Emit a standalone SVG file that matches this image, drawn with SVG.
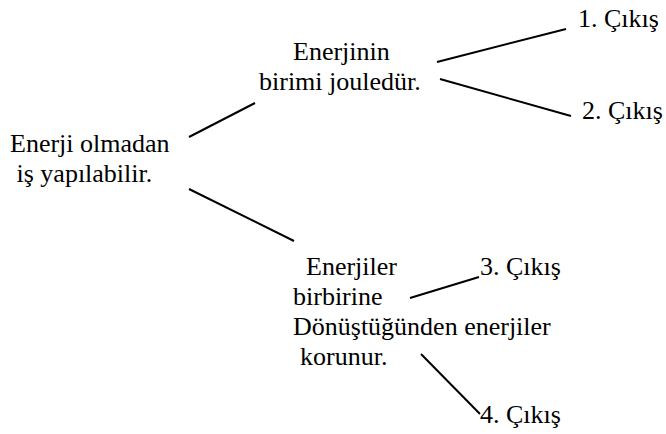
<svg xmlns="http://www.w3.org/2000/svg" width="666" height="434" viewBox="0 0 666 434">
<style>
text{font-family:"Liberation Serif","Times New Roman",serif;font-size:26px;fill:#000}
.c line{stroke:#000;stroke-width:2;stroke-linecap:butt}
</style>
<rect width="666" height="434" fill="#fff"/>
<g id="root">
<text x="10" y="152">Enerji olmadan</text>
<text x="16.5" y="182">iş yapılabilir.</text>
</g>
<g id="n1">
<text x="293" y="60">Enerjinin</text>
<text x="259" y="90">birimi jouledür.</text>
</g>
<g id="n2">
<text x="306" y="275">Enerjiler</text>
<text x="293" y="305">birbirine</text>
<text x="293" y="335">Dönüştüğünden enerjiler</text>
<text x="300" y="365">korunur.</text>
</g>
<g id="o1"><text x="578" y="27">1. Çıkış</text></g>
<g id="o2"><text x="582" y="119">2. Çıkış</text></g>
<g id="o3"><text x="480" y="275">3. Çıkış</text></g>
<g id="o4"><text x="480" y="423">4. Çıkış</text></g>
<g id="connectors" class="c">
<line x1="189" y1="137" x2="255" y2="103"/>
<line x1="189" y1="189" x2="294" y2="241"/>
<line x1="437" y1="62" x2="566" y2="29"/>
<line x1="440" y1="79" x2="571" y2="116"/>
<line x1="410" y1="298" x2="479" y2="277"/>
<line x1="421" y1="354" x2="480" y2="414"/>
</g>
</svg>
